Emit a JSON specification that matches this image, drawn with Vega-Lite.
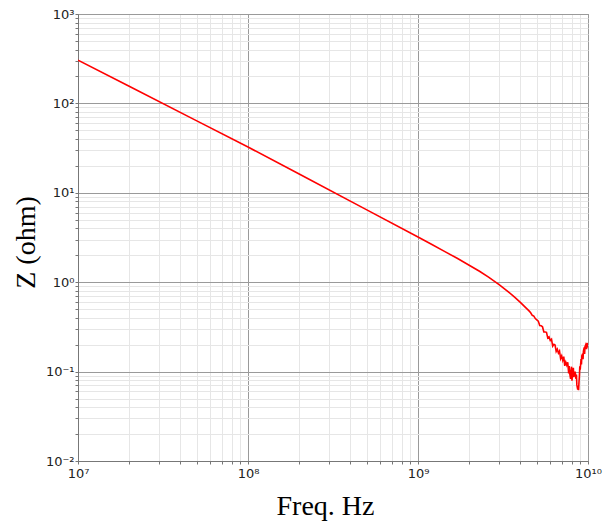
{
  "$schema": "https://vega.github.io/schema/vega-lite/v6.json",
  "width": 510,
  "height": 447,
  "autosize": "none",
  "padding": {"left": 78, "top": 14, "right": 15, "bottom": 66},
  "background": "white",
  "config": {
    "view": {"stroke": "#888888", "strokeWidth": 1},
    "axis": {
      "labelFont": "DejaVu Sans",
      "labelFontSize": 13,
      "labelColor": "#222222",
      "labelFlush": false,
      "domainColor": "#777777",
      "tickColor": "#777777",
      "tickSize": 3,
      "titleFont": "Liberation Serif",
      "titleFontSize": 28,
      "titleFontWeight": "normal",
      "titleColor": "#000000"
    }
  },
  "data": {
    "values": [
      {"f": 1e7, "z": 305},
      {"f": 2e7, "z": 155.6},
      {"f": 5e7, "z": 63.8},
      {"f": 1e8, "z": 32.5},
      {"f": 2e8, "z": 16.2},
      {"f": 5e8, "z": 6.44},
      {"f": 1e9, "z": 3.2},
      {"f": 1.2e9, "z": 2.66},
      {"f": 1.44e9, "z": 2.2},
      {"f": 1.7e9, "z": 1.85},
      {"f": 2e9, "z": 1.55},
      {"f": 2.3e9, "z": 1.325},
      {"f": 2.6e9, "z": 1.14},
      {"f": 3e9, "z": 0.94},
      {"f": 3.4e9, "z": 0.78},
      {"f": 3.7e9, "z": 0.68},
      {"f": 4.0e9, "z": 0.594},
      {"f": 4.3e9, "z": 0.519},
      {"f": 4.5e9, "z": 0.478},
      {"f": 4.6e9, "z": 0.455},
      {"f": 4.7e9, "z": 0.426},
      {"f": 4.8e9, "z": 0.418},
      {"f": 4.9e9, "z": 0.392},
      {"f": 5.0e9, "z": 0.379},
      {"f": 5.1e9, "z": 0.367},
      {"f": 5.2e9, "z": 0.328},
      {"f": 5.3e9, "z": 0.326},
      {"f": 5.4e9, "z": 0.317},
      {"f": 5.5e9, "z": 0.278},
      {"f": 5.6e9, "z": 0.277},
      {"f": 5.7e9, "z": 0.275},
      {"f": 5.8e9, "z": 0.237},
      {"f": 5.9e9, "z": 0.244},
      {"f": 6.0e9, "z": 0.223},
      {"f": 6.1e9, "z": 0.23},
      {"f": 6.2e9, "z": 0.193},
      {"f": 6.3e9, "z": 0.202},
      {"f": 6.4e9, "z": 0.198},
      {"f": 6.5e9, "z": 0.168},
      {"f": 6.6e9, "z": 0.178},
      {"f": 6.7e9, "z": 0.161},
      {"f": 6.8e9, "z": 0.17},
      {"f": 6.9e9, "z": 0.14},
      {"f": 7.0e9, "z": 0.15},
      {"f": 7.1e9, "z": 0.134},
      {"f": 7.2e9, "z": 0.147},
      {"f": 7.3e9, "z": 0.116},
      {"f": 7.4e9, "z": 0.128},
      {"f": 7.5e9, "z": 0.118},
      {"f": 7.6e9, "z": 0.127},
      {"f": 7.7e9, "z": 0.0955},
      {"f": 7.75e9, "z": 0.115},
      {"f": 7.8e9, "z": 0.0966},
      {"f": 7.9e9, "z": 0.083},
      {"f": 7.95e9, "z": 0.102},
      {"f": 8.0e9, "z": 0.1135},
      {"f": 8.05e9, "z": 0.079},
      {"f": 8.1e9, "z": 0.0955},
      {"f": 8.2e9, "z": 0.11},
      {"f": 8.25e9, "z": 0.087},
      {"f": 8.3e9, "z": 0.091},
      {"f": 8.4e9, "z": 0.1},
      {"f": 8.5e9, "z": 0.083},
      {"f": 8.55e9, "z": 0.093},
      {"f": 8.6e9, "z": 0.071},
      {"f": 8.7e9, "z": 0.063},
      {"f": 8.75e9, "z": 0.068},
      {"f": 8.8e9, "z": 0.062},
      {"f": 8.85e9, "z": 0.076},
      {"f": 8.9e9, "z": 0.089},
      {"f": 8.95e9, "z": 0.115},
      {"f": 9.0e9, "z": 0.105},
      {"f": 9.1e9, "z": 0.138},
      {"f": 9.15e9, "z": 0.12},
      {"f": 9.2e9, "z": 0.151},
      {"f": 9.3e9, "z": 0.158},
      {"f": 9.35e9, "z": 0.138},
      {"f": 9.4e9, "z": 0.17},
      {"f": 9.5e9, "z": 0.186},
      {"f": 9.55e9, "z": 0.158},
      {"f": 9.6e9, "z": 0.19},
      {"f": 9.7e9, "z": 0.2},
      {"f": 9.8e9, "z": 0.178},
      {"f": 9.9e9, "z": 0.209},
      {"f": 1e10, "z": 0.186}
    ]
  },
  "mark": {"type": "line", "color": "#ff0000", "strokeWidth": 1.6, "clip": true},
  "encoding": {
    "x": {
      "field": "f",
      "type": "quantitative",
      "scale": {"type": "log", "domain": [1e7, 1e10], "nice": false},
      "axis": {
        "title": "Freq. Hz",
        "titleX": 247,
        "titleY": 53,
        "titleBaseline": "alphabetic",
        "titleAlign": "center",
        "labelPadding": 3,
        "labelOverlap": false,
        "values": [10000000, 20000000, 30000000, 40000000, 50000000, 60000000, 70000000, 80000000, 90000000,
                   100000000, 200000000, 300000000, 400000000, 500000000, 600000000, 700000000, 800000000, 900000000,
                   1000000000, 2000000000, 3000000000, 4000000000, 5000000000, 6000000000, 7000000000, 8000000000, 9000000000,
                   10000000000],
        "labelExpr": "datum.value == 10000000 ? '10⁷' : datum.value == 100000000 ? '10⁸' : datum.value == 1000000000 ? '10⁹' : datum.value == 10000000000 ? '10¹⁰' : ''",
        "grid": true,
        "gridColor": {"condition": {"test": "indexof([10000000, 100000000, 1000000000, 10000000000], datum.value) >= 0", "value": "#9a9a9a"}, "value": "#e6e6e6"}
      }
    },
    "y": {
      "field": "z",
      "type": "quantitative",
      "scale": {"type": "log", "domain": [0.01, 1000], "nice": false},
      "axis": {
        "title": "Z (ohm)",
        "titleX": -44,
        "titleY": 228,
        "titleAngle": -90,
        "titleBaseline": "alphabetic",
        "titleAlign": "center",
        "labelPadding": 1,
        "labelOverlap": false,
        "values": [0.01, 0.02, 0.03, 0.04, 0.05, 0.06, 0.07, 0.08, 0.09,
                   0.1, 0.2, 0.3, 0.4, 0.5, 0.6, 0.7, 0.8, 0.9,
                   1, 2, 3, 4, 5, 6, 7, 8, 9,
                   10, 20, 30, 40, 50, 60, 70, 80, 90,
                   100, 200, 300, 400, 500, 600, 700, 800, 900, 1000],
        "labelExpr": "datum.value == 0.01 ? '10⁻²' : datum.value == 0.1 ? '10⁻¹' : datum.value == 1 ? '10⁰' : datum.value == 10 ? '10¹' : datum.value == 100 ? '10²' : datum.value == 1000 ? '10³' : ''",
        "grid": true,
        "gridColor": {"condition": {"test": "indexof([0.01, 0.1, 1, 10, 100, 1000], datum.value) >= 0", "value": "#9a9a9a"}, "value": "#e6e6e6"}
      }
    }
  }
}
